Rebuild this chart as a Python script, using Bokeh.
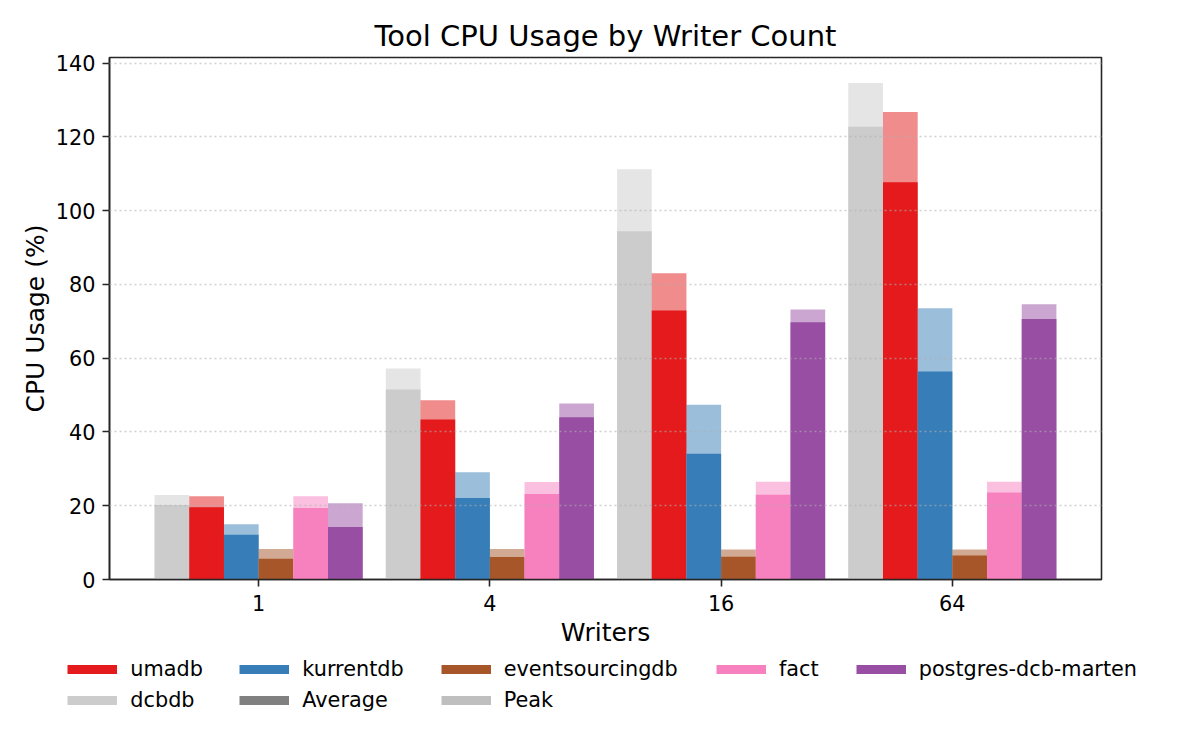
from bokeh.plotting import figure
from bokeh.models import Range1d, FixedTicker, Legend, LegendItem, ColumnDataSource
from bokeh.embed import file_html
from bokeh.resources import INLINE

writers = ["1", "4", "16", "64"]
tools = ["dcbdb", "umadb", "kurrentdb", "eventsourcingdb", "fact", "postgres-dcb-marten"]

dcbdb_avg = [20.2, 51.5, 94.4, 122.7]
dcbdb_peak = [22.9, 57.2, 111.2, 134.6]
umadb_avg = [19.6, 43.4, 72.9, 107.7]
umadb_peak = [22.6, 48.6, 83.0, 126.7]
kurrentdb_avg = [12.1, 22.1, 34.1, 56.4]
kurrentdb_peak = [15.0, 29.1, 47.4, 73.5]
eventsourcingdb_avg = [5.6, 6.1, 6.2, 6.5]
eventsourcingdb_peak = [8.3, 8.3, 8.1, 8.1]
fact_avg = [19.4, 23.2, 23.0, 23.6]
fact_peak = [22.6, 26.4, 26.5, 26.5]
pg_avg = [14.2, 44.0, 69.7, 70.6]
pg_peak = [20.7, 47.7, 73.2, 74.6]

avg = {"dcbdb": dcbdb_avg, "umadb": umadb_avg, "kurrentdb": kurrentdb_avg,
       "eventsourcingdb": eventsourcingdb_avg, "fact": fact_avg, "postgres-dcb-marten": pg_avg}
peak = {"dcbdb": dcbdb_peak, "umadb": umadb_peak, "kurrentdb": kurrentdb_peak,
        "eventsourcingdb": eventsourcingdb_peak, "fact": fact_peak, "postgres-dcb-marten": pg_peak}
colors = {"dcbdb": "#cccccc", "umadb": "#e41a1c", "kurrentdb": "#377eb8",
          "eventsourcingdb": "#a65628", "fact": "#f781bf", "postgres-dcb-marten": "#984ea3"}

legend_cols = [
    [("umadb", "#e41a1c"), ("dcbdb", "#cccccc")],
    [("kurrentdb", "#377eb8"), ("Average", "#808080")],
    [("eventsourcingdb", "#a65628"), ("Peak", "#bfbfbf")],
    [("fact", "#f781bf")],
    [("postgres-dcb-marten", "#984ea3")],
]

FONT = "DejaVu Sans"
TXT = "#000000"
SPINE = "#262626"
W = 1184
BOTTOM = 75

p = figure(frame_width=992, frame_height=522, output_backend="svg", toolbar_location=None,
           x_range=Range1d(-0.645, 3.645), y_range=Range1d(0, 141.5),
           min_border_left=109, min_border_right=W - 109 - 992, min_border_top=57,
           min_border_bottom=BOTTOM)
p.background_fill_color = "white"
p.border_fill_color = "white"
p.outline_line_color = SPINE
p.outline_line_width = 1.6
p.outline_line_alpha = 1.0

p.title.text = "Tool CPU Usage by Writer Count"
p.title.text_font = FONT
p.title.text_font_size = "29px"
p.title.text_font_style = "normal"
p.title.text_color = TXT
p.title.align = "center"
p.title.standoff = 10

bw = 0.15
idx = list(range(len(writers)))
for i, t in enumerate(tools):
    xs = [g + (i - 2.5) * bw for g in idx]
    src = ColumnDataSource(dict(x=xs, avg=avg[t], peak=peak[t]))
    p.vbar(x="x", top="peak", width=bw, bottom=0, source=src,
           fill_color=colors[t], fill_alpha=0.5, line_color=None)
    p.vbar(x="x", top="avg", width=bw, bottom=0, source=src,
           fill_color=colors[t], fill_alpha=1.0, line_color=None)

p.xgrid.visible = False
p.ygrid.grid_line_color = "#b0b0b0"
p.ygrid.grid_line_alpha = 0.6
p.ygrid.grid_line_width = 1.6
p.ygrid.grid_line_dash = "2 3"
p.ygrid.level = "guide"

p.xaxis.ticker = FixedTicker(ticks=idx)
p.xaxis.major_label_overrides = {i: w for i, w in enumerate(writers)}
p.yaxis.ticker = FixedTicker(ticks=[0, 20, 40, 60, 80, 100, 120, 140])

for ax in (p.xaxis[0], p.yaxis[0]):
    ax.axis_line_color = SPINE
    ax.axis_line_width = 1.6
    ax.major_tick_line_color = SPINE
    ax.major_tick_line_width = 1.6
    ax.major_tick_out = 7
    ax.major_tick_in = 0
    ax.minor_tick_line_color = None
    ax.major_label_text_font = FONT
    ax.major_label_text_font_size = "20.8px"
    ax.major_label_text_color = TXT
    ax.axis_label_text_font = FONT
    ax.axis_label_text_font_size = "25px"
    ax.axis_label_text_font_style = "normal"
    ax.axis_label_text_color = TXT

p.xaxis.axis_label = "Writers"
p.yaxis.axis_label = "CPU Usage (%)"
p.xaxis.major_label_standoff = 8
p.xaxis.axis_label_standoff = 4
p.yaxis.major_label_standoff = 7
p.yaxis.axis_label_standoff = 3

# legend strip: a separate root below the chart, its frame spans the full width
LH = 72
pl = figure(width=W, height=LH, output_backend="svg", toolbar_location=None,
            x_range=Range1d(0, 1), y_range=Range1d(0, 1),
            x_axis_type=None, y_axis_type=None,
            min_border_left=0, min_border_right=0, min_border_top=0, min_border_bottom=0)
pl.outline_line_color = None
pl.xgrid.visible = False
pl.ygrid.visible = False
pl.background_fill_color = "white"
pl.border_fill_color = "white"

top_of_strip = 57 + 522 + BOTTOM
col_x = [67.3, 239.3, 440.7, 716.0, 855.7]
ITEM_H = 24
SP = 7
row1_center = 668.7 - top_of_strip
for cx, col in zip(col_x, legend_cols):
    items = []
    for label, c in col:
        r = pl.line([-100, -99], [-100, -99], line_color=c, line_width=9, line_cap="butt")
        items.append(LegendItem(label=label, renderers=[r]))
    h = len(col) * ITEM_H + (len(col) - 1) * SP
    top = row1_center - ITEM_H / 2
    vy = LH - (top + h)
    leg = Legend(items=items, location=(cx, vy), orientation="vertical",
                 glyph_width=50, glyph_height=ITEM_H, label_height=ITEM_H,
                 label_standoff=13, spacing=SP, padding=0, margin=0,
                 border_line_color=None, background_fill_alpha=0,
                 label_text_font=FONT, label_text_font_size="20.8px",
                 label_text_color=TXT)
    pl.add_layout(leg, "center")

open("out.html", "w").write(file_html([p, pl], INLINE))
